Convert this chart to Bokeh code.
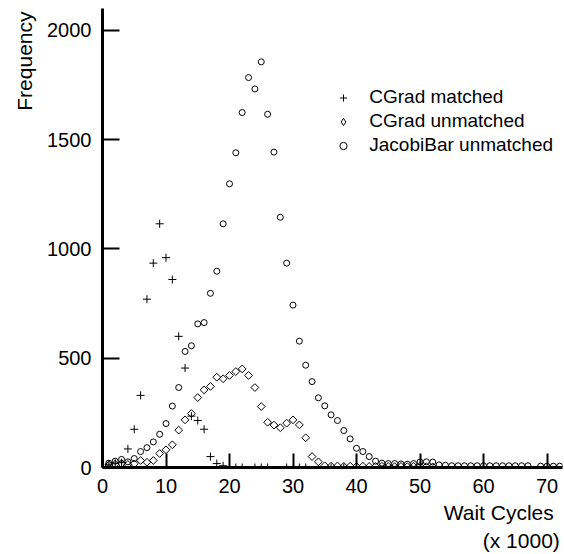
import numpy as np
from bokeh.plotting import figure
from bokeh.models import Range1d, FixedTicker, Legend, LegendItem, Title
from bokeh.embed import file_html
from bokeh.resources import INLINE

# CGrad matched (+)
cm_x = [1, 2, 3, 4, 5, 6, 7, 8, 9, 10, 11, 12, 13, 14, 15, 16, 17, 18, 19,
        20, 21, 22, 24, 25, 26, 29, 31, 32, 36, 38, 40]
cm_y = [15, 20, 22, 85, 175, 330, 770, 935, 1115, 960, 860, 600, 455, 235, 215, 175, 50, 18, 8,
        0, 0, 0, 0, 0, 0, 0, 0, 0, 0, 0, 0]

# CGrad unmatched (diamond)
cu_x = list(range(1, 53))
cu_y = [12, 15, 18, 14, 17, 32, 24, 32, 64, 81, 104, 171, 218, 247, 320, 355, 371, 413, 406, 421,
        439, 451, 421, 366, 279, 207, 194, 182, 203, 218, 195, 136, 50, 26, 8, 6, 7, 5, 6, 5,
        6, 5, 5, 6, 5, 4, 5, 4, 5, 6, 4, 3]

# JacobiBar unmatched (circle)
jb_x = list(range(1, 68)) + [69, 70, 71, 72]
jb_y = [20, 29, 37, 26, 41, 73, 91, 117, 152, 201, 281, 366, 531, 557, 657, 663, 797, 898, 1115, 1298,
        1440, 1624, 1784, 1732, 1856, 1616, 1443, 1145, 935, 743, 578, 468, 393, 319, 282, 241, 215, 169, 131, 88,
        73, 50, 29, 20, 18, 18, 16, 15, 18, 25, 26, 25, 12, 10, 8, 8, 8, 8, 8, 8,
        8, 8, 8, 8, 8, 8, 8,
        6, 6, 6, 6]

x_ticks = [0, 10, 20, 30, 40, 50, 60, 70]
y_ticks = [0, 500, 1000, 1500, 2000]
series_names = ["CGrad matched", "CGrad unmatched", "JacobiBar unmatched"]
y_title = "Frequency"
x_title_lines = ["Wait Cycles", "(x 1000)"]

FONT = "Liberation Sans"

p = figure(width=564, height=554, output_backend="svg", toolbar_location=None,
           x_range=Range1d(0, 72.44), y_range=Range1d(0, 2100),
           min_border_left=102, min_border_right=2, min_border_top=8, min_border_bottom=87)
p.outline_line_color = None
p.grid.visible = False
p.background_fill_color = "white"

r1 = p.scatter(cm_x, cm_y, marker="cross", size=8, line_color="black", line_width=1, fill_color=None)
r2 = p.scatter(cu_x, cu_y, marker="square", size=5.5, angle=np.pi / 4, line_color="black",
               line_width=1, fill_color=None)
r3 = p.scatter(jb_x, jb_y, marker="circle", size=6, line_color="black", line_width=1, fill_color=None)
# same series, hidden, only used for the legend's diamond symbol
r2_leg = p.scatter(cu_x, cu_y, marker="diamond", size=8, line_color="black", line_width=1,
                   fill_color=None, visible=False)

for ax in (p.xaxis[0], p.yaxis[0]):
    ax.axis_line_width = 3
    ax.axis_line_color = "black"
    ax.major_tick_line_width = 2
    ax.major_tick_line_color = "black"
    ax.minor_tick_line_color = None
    ax.major_tick_out = 0
    ax.major_label_text_font = FONT
    ax.major_label_text_font_size = "20px"
    ax.major_label_text_color = "black"

p.xaxis[0].ticker = FixedTicker(ticks=x_ticks)
p.yaxis[0].ticker = FixedTicker(ticks=y_ticks)
p.xaxis[0].major_tick_in = 14
p.yaxis[0].major_tick_in = 17
p.xaxis[0].major_label_standoff = 11
p.yaxis[0].major_label_standoff = 11

legend = Legend(items=[LegendItem(label=series_names[0], renderers=[r1]),
                       LegendItem(label=series_names[1], renderers=[r2_leg]),
                       LegendItem(label=series_names[2], renderers=[r3])],
                location=(232.3, 310.8), margin=0, padding=0, spacing=2,
                glyph_width=18, glyph_height=21, label_height=21, label_standoff=17,
                border_line_color=None, background_fill_alpha=0, inactive_fill_alpha=0,
                label_text_font=FONT, label_text_font_size="19px", label_text_color="black")
p.add_layout(legend, "center")

p.add_layout(Title(text=y_title, align="right", offset=3, text_font=FONT, text_font_size="21px",
                   text_font_style="normal", text_color="black", standoff=17), "left")
p.add_layout(Title(text=x_title_lines[0], align="right", offset=8.7, text_font=FONT,
                   text_font_size="21px", text_font_style="normal", text_color="black",
                   standoff=6), "below")
p.add_layout(Title(text=x_title_lines[1], align="right", offset=2.7, text_font=FONT,
                   text_font_size="21px", text_font_style="normal", text_color="black",
                   standoff=0), "below")

open("out.html", "w").write(file_html(p, INLINE))
